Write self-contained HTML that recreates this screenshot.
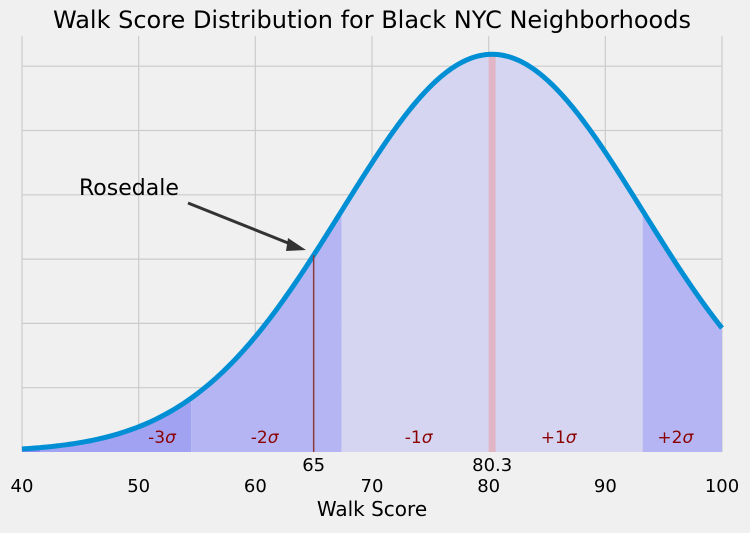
<!DOCTYPE html>
<html><head><meta charset="utf-8"><style>
body{margin:0;background:#f0f0f0;font-family:"DejaVu Sans","Liberation Sans",sans-serif}
</style></head><body>
<svg id="c" width="750" height="529" xmlns="http://www.w3.org/2000/svg">
<rect width="750" height="529" fill="#f0f0f0"/>
<text x="372" y="28" text-anchor="middle" font-size="24" fill="#000">Walk Score Distribution for Black NYC Neighborhoods</text>
<g id="grid"></g><g id="fills"></g><g id="marks"></g>
<text x="372" y="516" text-anchor="middle" font-size="20">Walk Score</text>
</svg>
<script>
const mean = 80.3;
const sigma = 12.9;
const xTicks = [40,50,60,70,80,90,100];
const yTicks = [0,0.005,0.01,0.015,0.02,0.025,0.03];
const sigmaLabels = ["-3","-2","-1","+1","+2"];
const sigmaLabelX = [52,60.8,74,86,96];
const highlight = 65;
const svg = document.getElementById('c');
const NS = 'http://www.w3.org/2000/svg';
const X = v => 22 + (v-40)*700/60;
const Y = d => 452 - d*12860;
const pdf = x => Math.exp(-0.5*((x-mean)/sigma)**2)/(sigma*Math.sqrt(2*Math.PI));
function mk(t,a,p){const e=document.createElementNS(NS,t);for(const k in a)e.setAttribute(k,a[k]);p.appendChild(e);return e;}
const grid=document.getElementById('grid'),fills=document.getElementById('fills'),marks=document.getElementById('marks');
xTicks.forEach(v=>{
  const l=mk('line',{x1:X(v),x2:X(v),y1:36,y2:452,stroke:'#cbcbcb','stroke-width':1.2},grid);
  
  
  const t=mk('text',{x:X(v),y:492,'text-anchor':'middle','font-size':18},svg);
  t.textContent=v;
  
  
});
yTicks.forEach(v=>{
  if(v===0) return;
  const l=mk('line',{x1:22,x2:722,y1:Y(v),y2:Y(v),stroke:'#cbcbcb','stroke-width':1.2},grid);
  
  
});
function area(a,b,fill,name){
  a=Math.max(a,40); b=Math.min(b,100);
  if(b<=a) return;
  let d=`M${X(a)},${Y(0)}`;
  for(let i=0;i<=100;i++){const x=a+(b-a)*i/100; d+=`L${X(x)},${Y(pdf(x))}`;}
  d+=`L${X(b)},${Y(0)}Z`;
  const p=mk('path',{d,fill},fills);
  
  
}
const b=[40,mean-3*sigma,mean-2*sigma,mean-sigma,mean+sigma,100];
const cols=['#8a8af0','#a2a2f2','#b5b5f3','#d5d5f1','#b5b5f3'];
for(let i=0;i<5;i++) area(b[i],b[i+1],cols[i],'sigma-band');
const mb=mk('rect',{x:X(mean-0.3),y:Y(pdf(mean)),width:X(mean+0.3)-X(mean-0.3),height:Y(0)-Y(pdf(mean)),fill:'#e8a0a8',opacity:0.6},fills);


let d='';
for(let x=40;x<=100;x+=0.25) d+=(d?'L':'M')+X(x)+','+Y(pdf(x));
const c=mk('path',{d,fill:'none',stroke:'#008fd5','stroke-width':5},marks);


const hl=mk('line',{x1:X(highlight),x2:X(highlight),y1:Y(pdf(highlight)),y2:452,stroke:'#8b3a3a','stroke-width':1.5},marks);


sigmaLabels.forEach((s,i)=>{
  const t=mk('text',{x:X(sigmaLabelX[i]),y:443,'text-anchor':'middle','font-size':17,fill:'#8b0000'},marks);
  t.innerHTML=s+'<tspan font-style="italic">σ</tspan>';
  
  
});
[[highlight,'65'],[mean,mean.toFixed(1)]].forEach(([v,s])=>{
  const t=mk('text',{x:X(v),y:471,'text-anchor':'middle','font-size':18},marks);
  t.textContent=s;
  
  
});
const ar=mk('line',{x1:188,y1:203,x2:293,y2:245,stroke:'#333','stroke-width':3},marks);


const ah=mk('polygon',{points:'306,250 288,238 286,251',fill:'#333'},marks);


const at=mk('text',{x:79,y:195,'font-size':22},marks);
at.textContent='Rosedale';


</script>
</body></html>
